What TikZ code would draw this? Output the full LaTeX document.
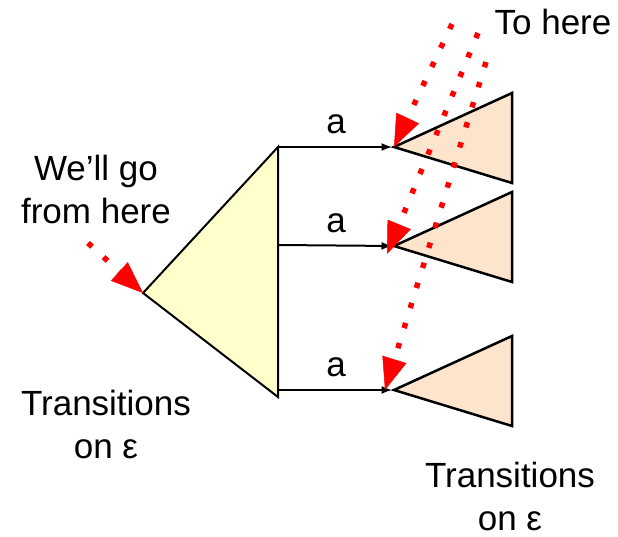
\documentclass[tikz,border=0pt]{standalone}
\usepackage{fontspec}
\setmainfont{Liberation Sans}
\usetikzlibrary{arrows.meta, positioning}
\definecolor{closureyellow}{HTML}{FFFFCC}
\definecolor{closurepeach}{HTML}{FDE4CC}

\begin{document}
\begin{tikzpicture}[x=1pt, y=-1pt, >={Latex[length=11pt, width=8pt]},
    bigtri/.style={draw, line width=2pt, fill=closureyellow, line join=miter},
    smalltri/.style={draw, line width=2.5pt, fill=closurepeach, line join=miter},
    move/.style={->, line width=2pt, shorten >=1.5pt},
    hint/.style={-{Triangle[length=32pt, width=25pt, line width=0.5pt]}, red,
                 line width=5.5pt, dash pattern=on 5.5pt off 15.5pt},
    txt/.style={font=\fontsize{35}{43}\selectfont, inner sep=0pt, align=center},
    sym/.style={font=\fontsize{35}{43}\selectfont, inner sep=0pt, above=12pt}]
  \useasboundingbox (0,0) rectangle (618,537);

  % epsilon closure of the start state
  \coordinate (big-tip) at (143,293);
  \coordinate (big-top) at (278,147);
  \coordinate (big-mid) at (278,245);
  \coordinate (big-low) at (278,390);
  \coordinate (big-bot) at (278,397);
  \draw[bigtri] (big-tip) -- (big-top) -- (big-bot) -- cycle;

  % closures reached after reading a
  \foreach \n/\y in {1/147, 2/246, 3/390} {
    \coordinate (t\n-tip) at (394,\y);
    \draw[smalltri] (t\n-tip) -- (512,\y-54) -- (512,\y+36) -- cycle;
  }

  \draw[move] (big-top) -- node[sym] {a} (t1-tip);
  \draw[move] (big-mid) -- node[sym] {a} (t2-tip);
  \draw[move] (big-low) -- node[sym] {a} (t3-tip);

  % hints
  \coordinate (from-here) at (88,243);
  \coordinate (to-1) at (452,24);
  \coordinate (to-2) at (478,33);
  \coordinate (to-3) at (486,62);
  \draw[hint] (from-here) -- (big-tip);
  \draw[hint] (to-1) -- (t1-tip);
  \draw[hint] (to-2) -- ([xshift=-7pt, yshift=-8pt]t2-tip);
  \draw[hint] (to-3) -- ([xshift=-9pt]t3-tip);

  \node[txt] (start-note) at (96,189) {We’ll go\\from here};
  \node[txt, anchor=base] (to-here) at (553,35) {To here};
  \node[txt] (eps-left) at (106,424) {Transitions\\on ε};
  \node[txt] (eps-right) at (510,496) {Transitions\\on ε};
\end{tikzpicture}
\end{document}
